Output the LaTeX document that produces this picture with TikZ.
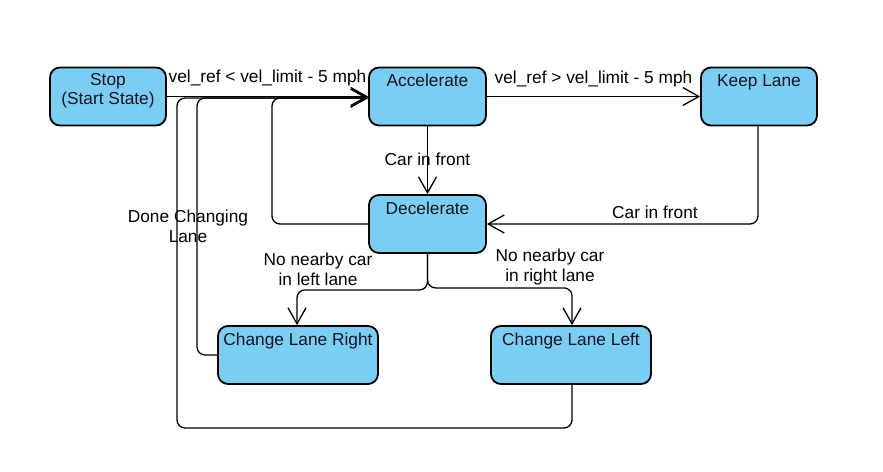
\documentclass[tikz,border=0pt]{standalone}
\usepackage{fontspec}
\setmainfont{Liberation Sans}
\usetikzlibrary{arrows.meta}
\definecolor{boxfill}{RGB}{122,206,244}
\definecolor{boxtext}{RGB}{20,20,30}
\begin{document}
\begin{tikzpicture}[x=1pt,y=-1pt,
  state/.style={draw=black, line width=1.8pt, fill=boxfill, rounded corners=10pt,
    minimum height=58pt, inner sep=0pt},
  stext/.style={font=\fontsize{17.3}{19.5}\selectfont, text=boxtext, inner sep=0pt, align=center},
  ltext/.style={font=\fontsize{17.3}{20}\selectfont, text=black, inner sep=0pt, align=center},
  conn/.style={draw=black, line width=1.3pt, rounded corners=8pt,
    -{Straight Barb[length=16pt,width=18pt,line width=1.3pt]}},
  wire/.style={draw=black, line width=1.3pt, rounded corners=8pt}]
\useasboundingbox (0,0) rectangle (883,471);

% states
\node[state, minimum width=116pt] (stop) at (108,96.5) {};
\node[state, minimum width=117pt] (acc) at (427.5,96.5) {};
\node[state, minimum width=116pt] (keep) at (759,96.5) {};
\node[state, minimum width=117pt] (dec) at (427.5,224) {};
\node[state, minimum width=160pt] (clr) at (298,355) {};
\node[state, minimum width=160pt] (cll) at (571,355) {};

% state texts
\node[stext, anchor=center] (stopt) at ([yshift=-24pt]stop.north) {Stop\\(Start State)};
\node[stext, anchor=base] (acct) at ([yshift=-20pt]acc.north) {Accelerate};
\node[stext, anchor=base] (keept) at ([yshift=-20pt]keep.north) {Keep Lane};
\node[stext, anchor=base] (dect) at ([yshift=-20pt]dec.north) {Decelerate};
\node[stext, anchor=base] (clrt) at ([yshift=-20pt]clr.north) {Change Lane Right};
\node[stext, anchor=base] (cllt) at ([yshift=-20pt]cll.north) {Change Lane Left};

% helper coordinates
\coordinate (accin) at ([yshift=-1.5pt]acc.west);
\coordinate (declo) at (272,224);
\coordinate (clrlo) at (197,355);
\coordinate (clllo) at (177,428);

% connectors
\draw[conn] (stop.east) -- (acc.west)
  node[ltext, midway, anchor=base, yshift=14pt] (l1) {vel\_ref < vel\_limit - 5 mph};
\draw[conn] (acc.east) -- (keep.west)
  node[ltext, midway, anchor=base, yshift=13pt] (l2) {vel\_ref > vel\_limit - 5 mph};
\draw[conn] (acc.south) -- (dec.north)
  node[ltext, pos=0.48] (l3) {Car in front};
\draw[conn] ([xshift=-1pt]keep.south) |- (dec.east)
  node[ltext, pos=0.69, anchor=base, yshift=6pt] (l4) {Car in front};
\draw[conn] (dec.west) -- (declo) |- (accin);
\draw[conn] (clr.west) -- (clrlo) |- (accin);
\draw[conn] ([xshift=1pt]cll.south) |- (clllo) |- (accin);
\draw[conn] (dec.south) -- ++(0,36) -| ([xshift=-1pt]clr.north);
\draw[conn] (dec.south) -- ++(0,34) -| ([xshift=1pt]cll.north);

% edge labels
\node[ltext] (l5) at (188,226) {Done Changing\\Lane};
\node[ltext] (l6) at (318,269) {No nearby car\\in left lane};
\node[ltext] (l7) at (550,267) {No nearby car\\in right lane};
\end{tikzpicture}
\end{document}
